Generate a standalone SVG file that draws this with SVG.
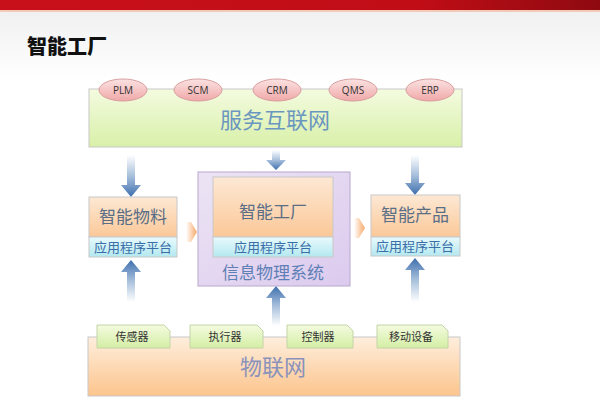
<svg xmlns="http://www.w3.org/2000/svg" width="600" height="407" viewBox="0 0 600 407">
<defs>
<linearGradient id="topbar" x1="0" y1="0" x2="1" y2="0"><stop offset="0" stop-color="#c8101a"/><stop offset="0.7" stop-color="#c00d16"/><stop offset="1" stop-color="#8e0a10"/></linearGradient>
<linearGradient id="bg" x1="0" y1="0" x2="0" y2="1"><stop offset="0" stop-color="#eeeeee"/><stop offset="0.2" stop-color="#ffffff"/><stop offset="1" stop-color="#ffffff"/></linearGradient>
<linearGradient id="green" x1="0" y1="0" x2="0" y2="1"><stop offset="0" stop-color="#f4fbe0"/><stop offset="1" stop-color="#d8f0a8"/></linearGradient>
<linearGradient id="pink" x1="0" y1="0" x2="0" y2="1"><stop offset="0" stop-color="#fbe2e2"/><stop offset="1" stop-color="#f0a8a8"/></linearGradient>
<linearGradient id="orange" x1="0" y1="0" x2="0" y2="1"><stop offset="0" stop-color="#fde8d4"/><stop offset="1" stop-color="#fbc898"/></linearGradient>
<linearGradient id="orangeBig" x1="0" y1="0" x2="0" y2="1"><stop offset="0" stop-color="#feeedd"/><stop offset="1" stop-color="#fcc48c"/></linearGradient>
<linearGradient id="cyan" x1="0" y1="0" x2="0" y2="1"><stop offset="0" stop-color="#e8fafc"/><stop offset="1" stop-color="#b4e8f0"/></linearGradient>
<linearGradient id="purple" x1="0" y1="0" x2="1" y2="1"><stop offset="0" stop-color="#ece4f4"/><stop offset="1" stop-color="#dccaee"/></linearGradient>
<linearGradient id="tab" x1="0" y1="0" x2="0" y2="1"><stop offset="0" stop-color="#f4fbe0"/><stop offset="1" stop-color="#d4eea4"/></linearGradient>
<linearGradient id="arrDown" x1="0" y1="0" x2="0" y2="1"><stop offset="0" stop-color="#ffffff"/><stop offset="0.5" stop-color="#a8c0dc"/><stop offset="1" stop-color="#3e6fae"/></linearGradient>
<linearGradient id="arrUp" x1="0" y1="1" x2="0" y2="0"><stop offset="0" stop-color="#ffffff"/><stop offset="0.5" stop-color="#a8c0dc"/><stop offset="1" stop-color="#3e6fae"/></linearGradient>
<linearGradient id="chev" x1="0" y1="0" x2="1" y2="0"><stop offset="0" stop-color="#ffffff"/><stop offset="1" stop-color="#f7a868"/></linearGradient>
</defs>
<style>
.cjk{font-family:"Noto Sans CJK SC","Noto Sans",sans-serif;}
.lat{font-family:"Open Sans","Liberation Sans",sans-serif;}
.box{stroke:#c8c8c8;stroke-width:1;}
.big{font-size:22px;fill:#6a96bf;}
.mid{font-size:17px;fill:#5a6e86;}
.band{font-size:13px;fill:#3a6ea8;}
.tabt{font-size:11px;fill:#333;}
.ell{font-size:10px;fill:#333;}
</style>
<rect x="0" y="0" width="600" height="407" fill="url(#bg)"/>
<rect x="0" y="0" width="600" height="10" fill="url(#topbar)"/>
<rect x="0" y="10" width="600" height="2" fill="#f3c9b8"/>
<text x="27" y="54" class="cjk" font-size="20" font-weight="900" fill="#111">智能工厂</text>

<g id="connectors">
<path d="M127,155 h8 v30 h6 l-10,12 l-10,-12 h6 z" fill="url(#arrDown)"/>
<path d="M272,150 h8 v10 h6 l-10,10 l-10,-10 h6 z" fill="url(#arrDown)"/>
<path d="M411,155 h8 v28 h6 l-10,12 l-10,-12 h6 z" fill="url(#arrDown)"/>
<path d="M127,302 h8 v-30 h6 l-10,-12 l-10,12 h6 z" fill="url(#arrUp)"/>
<path d="M272,326 h8 v-28 h6 l-10,-12 l-10,12 h6 z" fill="url(#arrUp)"/>
<path d="M411,302 h8 v-32 h6 l-10,-12 l-10,12 h6 z" fill="url(#arrUp)"/>
<path d="M186,222 h5 l6,10 l-6,10 h-5 z" fill="url(#chev)"/>
<path d="M354,218 h5 l6,10 l-6,10 h-5 z" fill="url(#chev)"/>
</g>

<g id="service">
<rect x="89" y="89" width="373" height="58" fill="url(#green)" class="box"/>
<text x="275" y="128" class="cjk big" text-anchor="middle">服务互联网</text>
</g>
<g id="plm"><ellipse cx="123" cy="90" rx="24" ry="11" fill="url(#pink)" stroke="#d8a0a0"/><text x="123" y="94" class="lat ell" text-anchor="middle">PLM</text></g>
<g id="scm"><ellipse cx="198" cy="90" rx="24" ry="11" fill="url(#pink)" stroke="#d8a0a0"/><text x="198" y="94" class="lat ell" text-anchor="middle">SCM</text></g>
<g id="crm"><ellipse cx="277" cy="90" rx="24" ry="11" fill="url(#pink)" stroke="#d8a0a0"/><text x="277" y="94" class="lat ell" text-anchor="middle">CRM</text></g>
<g id="qms"><ellipse cx="353" cy="90" rx="24" ry="11" fill="url(#pink)" stroke="#d8a0a0"/><text x="353" y="94" class="lat ell" text-anchor="middle">QMS</text></g>
<g id="erp"><ellipse cx="430" cy="90" rx="24" ry="11" fill="url(#pink)" stroke="#d8a0a0"/><text x="430" y="94" class="lat ell" text-anchor="middle">ERP</text></g>

<g id="material">
<rect x="89" y="197" width="88" height="40" fill="url(#orange)" class="box"/>
<rect x="89" y="237" width="88" height="20" fill="url(#cyan)" class="box"/>
<text x="133" y="223" class="cjk mid" text-anchor="middle">智能物料</text>
<text x="133" y="252" class="cjk band" text-anchor="middle">应用程序平台</text>
</g>

<g id="cps">
<rect x="198" y="172" width="152" height="114" fill="url(#purple)" stroke="#b8a8cc"/>
<rect x="213" y="177" width="120" height="60" fill="url(#orange)" class="box"/>
<rect x="213" y="237" width="120" height="20" fill="url(#cyan)" class="box"/>
<text x="273" y="218" class="cjk mid" text-anchor="middle">智能工厂</text>
<text x="273" y="252" class="cjk band" text-anchor="middle">应用程序平台</text>
<text x="273" y="279" class="cjk mid" text-anchor="middle" style="fill:#5e7fb5">信息物理系统</text>
</g>

<g id="product">
<rect x="371" y="195" width="89" height="42" fill="url(#orange)" class="box"/>
<rect x="371" y="237" width="89" height="19" fill="url(#cyan)" class="box"/>
<text x="415" y="221" class="cjk mid" text-anchor="middle">智能产品</text>
<text x="415" y="251" class="cjk band" text-anchor="middle">应用程序平台</text>
</g>

<g id="iot">
<rect x="88" y="337" width="372" height="59" fill="url(#orangeBig)" class="box"/>
<text x="273" y="375" class="cjk big" text-anchor="middle" style="fill:#8a92bc">物联网</text>
</g>
<g id="sensor"><path d="M97,325 h67 l6,6 v17 h-73 z" fill="url(#tab)" stroke="#c4d4a8"/><text x="132" y="341" class="cjk tabt" text-anchor="middle">传感器</text></g>
<g id="actuator"><path d="M190,325 h67 l6,6 v17 h-73 z" fill="url(#tab)" stroke="#c4d4a8"/><text x="225" y="341" class="cjk tabt" text-anchor="middle">执行器</text></g>
<g id="controller"><path d="M287,325 h60 l6,6 v17 h-66 z" fill="url(#tab)" stroke="#c4d4a8"/><text x="318" y="341" class="cjk tabt" text-anchor="middle">控制器</text></g>
<g id="mobile"><path d="M377,325 h65 l6,6 v17 h-71 z" fill="url(#tab)" stroke="#c4d4a8"/><text x="411" y="341" class="cjk tabt" text-anchor="middle">移动设备</text></g>
</svg>
